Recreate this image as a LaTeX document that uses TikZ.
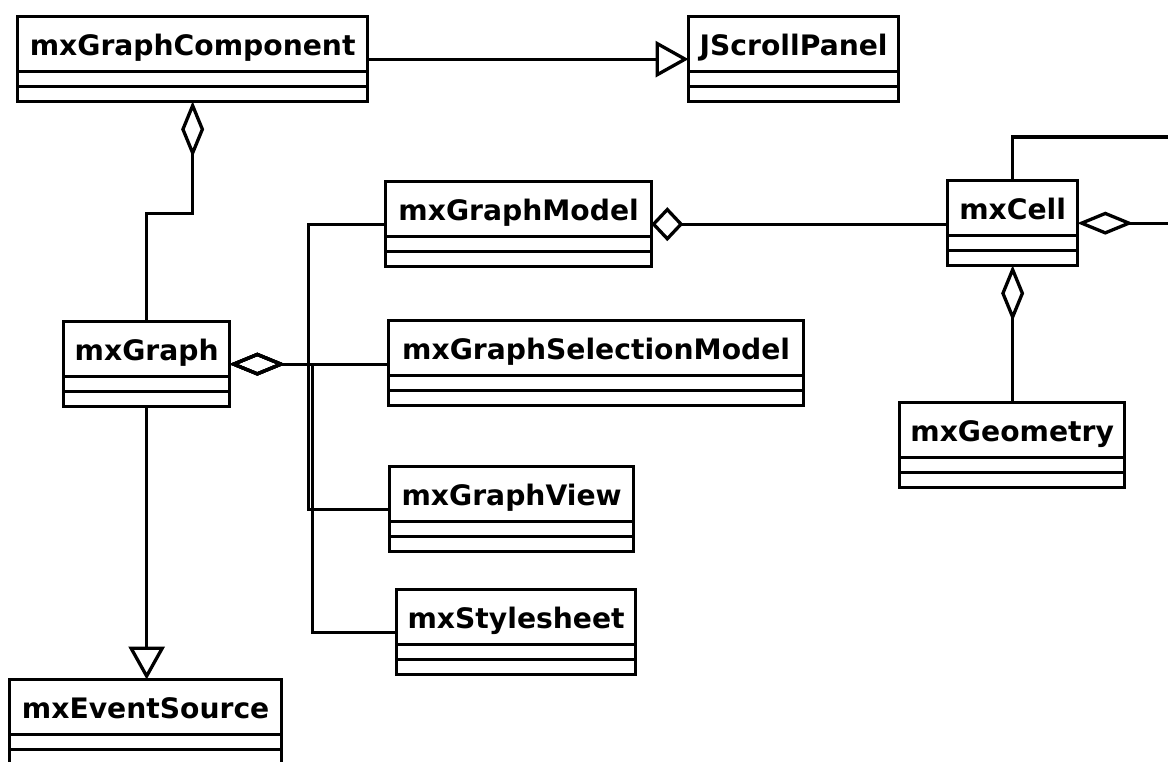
\documentclass[tikz,border=0pt]{standalone}
\usepackage{fontspec}
\setmainfont{DejaVu Sans}
\usetikzlibrary{arrows.meta,calc}
\tikzset{
  umlclass/.style={draw, anchor=north west, inner xsep=0pt, inner ysep=0pt,
    text height=39pt, text depth=46pt,
    font=\fontsize{28.2}{32}\selectfont\bfseries,
    path picture={
      \draw ([yshift=15pt]path picture bounding box.south west) -- ([yshift=15pt]path picture bounding box.south east);
      \draw ([yshift=30pt]path picture bounding box.south west) -- ([yshift=30pt]path picture bounding box.south east);
    }},
  gen/.style={-{Triangle[open,length=33pt,width=36pt]}, shorten >=-1.5pt},
  aggr/.style={{Diamond[open,length=56pt,width=23pt]}-, shorten <=-2pt},
  aggrbig/.style={{Diamond[open,length=32pt,width=34pt]}-, shorten <=-2pt}
}

\begin{document}
\begin{tikzpicture}[x=1pt, y=-1pt, line width=3.3pt]
  \useasboundingbox (0,0) rectangle (1168,761);
  %%%%% classes %%%%%
  \node[umlclass, minimum width=350] (comp) at (16,15) {mxGraphComponent};
  \node[umlclass, minimum width=210] (scroll) at (687,15) {JScrollPanel};
  \node[umlclass, minimum width=266] (model) at (384,180) {mxGraphModel};
  \node[umlclass, minimum width=130] (cell) at (946,179) {mxCell};
  \node[umlclass, minimum width=166] (graph) at (62,320) {mxGraph};
  \node[umlclass, minimum width=415] (selmodel) at (387,319) {mxGraphSelectionModel};
  \node[umlclass, minimum width=225] (geom) at (898,401) {mxGeometry};
  \node[umlclass, minimum width=244] (view) at (388,465) {mxGraphView};
  \node[umlclass, minimum width=239] (style) at (395,588) {mxStylesheet};
  \node[umlclass, minimum width=272] (evsrc) at (8,678) {mxEventSource};

  %%%%% free ends and bends %%%%%
  \coordinate (hub) at ($(graph.east)+(77,0)$);
  \coordinate (hubb) at ($(graph.east)+(81,0)$);
  \coordinate (edgeR) at (1170,0);
  \coordinate (cellT) at (1170,137);

  %%%%% connectors %%%%%
  \draw[gen] (comp) -- (scroll);
  \draw[aggr] (comp.south) -- ++(0,110) -| (graph.north);
  \draw[gen] (graph.south) -- (graph.south |- evsrc.north);
  \draw[aggr] (graph.east) -- (hub) |- (model.west);
  \draw[aggr] (graph.east) -- (graph.east -| selmodel.west);
  \draw[aggr] (graph.east) -- (hub) |- (view.west);
  \draw[aggr] (graph.east) -- (hubb) |- (style.west);
  \draw[aggrbig] (model.east) -- (model.east -| cell.west);
  \draw[aggr] (cell.east) -- (cell.east -| edgeR);
  \draw (cell.north) |- (cellT);
  \draw[aggr] (cell.south) -- (cell.south |- geom.north);
\end{tikzpicture}
\end{document}
